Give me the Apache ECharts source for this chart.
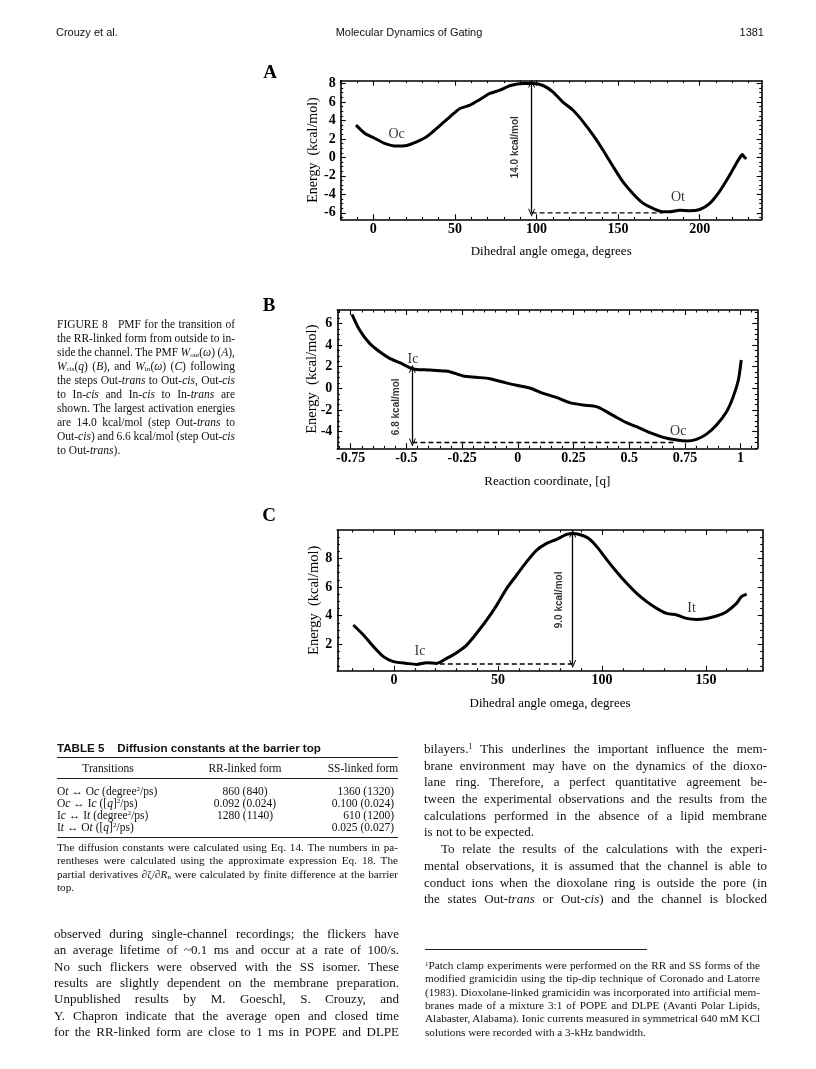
<!DOCTYPE html>
<html><head><meta charset="utf-8">
<script src="https://cdn.jsdelivr.net/npm/echarts@6/dist/echarts.min.js"></script>
<style>
html,body{margin:0;padding:0;background:#fff;}
#page{position:relative;width:816px;height:1069px;overflow:hidden;background:#fff;}
#chart{position:absolute;left:0;top:0;width:816px;height:1069px;}
.t{position:absolute;white-space:nowrap;color:#111;}
.serif{font-family:'Liberation Serif','Times New Roman',serif;}
.sans{font-family:'Liberation Sans',Arial,sans-serif;}
.ln{position:absolute;text-align:left;color:#111;font-family:'Liberation Serif','Times New Roman',serif;white-space:nowrap;}
.s{font-size:0.62em;line-height:0;}
sub.s{vertical-align:-0.2em;}
sup.s{vertical-align:0.5em;}
.rule{position:absolute;background:#222;}
</style></head>
<body>
<div id="page">
<div id="chart"></div>
</div>
<script>
// ---------------- data ----------------
// Panel A: W_out(omega)
const aX = [-10.6,-5.1,0,6.1,14.3,20.4,26.5,32.7,38.8,46.9,53.1,59.2,65.3,71.4,77.6,83.7,91.8,98,104,110,116,122.4,128.6,134.7,140.8,147,153,159,165,171.4,177.6,181.6,187.8,194,200,206,212,218.4,222.4,224.9,226,227.6,228.6];
const aY = [3.49,2.59,2.15,1.58,1.22,1.29,1.68,2.23,3.13,4.39,5.29,5.65,6.27,6.92,7.28,7.75,8.0,8.0,7.78,7.1,6.0,5.1,3.85,2.4,0.78,-1.02,-2.65,-3.9,-4.92,-5.53,-5.89,-5.89,-5.71,-5.78,-5.64,-5.0,-3.73,-1.92,-0.66,0.06,0.31,-0.01,-0.16];
const aXTicks = [0,50,100,150,200];
const aYTicks = [-6,-4,-2,0,2,4,6,8];
const aBarX = [97,97], aBarY = [8,-6];
const aBaseX = [97,177], aBaseY = [-6,-6];
const aLabNames = ['Oc','Ot'], aLabX = [14.3,186.7], aLabY = [2.5,-4.34];
const aEnergy = '14.0 kcal/mol', aEnergyX = 86.7, aEnergyY = 1.1;

// Panel B: W_cis(q)
const bX = [-0.744,-0.71,-0.665,-0.62,-0.575,-0.53,-0.478,-0.455,-0.395,-0.335,-0.305,-0.245,-0.186,-0.126,-0.066,-0.006,0.054,0.114,0.173,0.233,0.293,0.353,0.398,0.443,0.488,0.533,0.593,0.653,0.713,0.758,0.802,0.847,0.892,0.937,0.967,0.99,1.003];
const bY = [6.83,5.38,4.15,3.38,2.77,2.37,1.85,1.75,1.69,1.6,1.54,1.14,1.02,0.89,0.58,0.28,0.03,-0.46,-0.83,-1.32,-1.54,-1.69,-2.15,-2.68,-3.17,-3.54,-4.09,-4.52,-4.77,-4.86,-4.71,-4.22,-3.38,-2.15,-0.77,0.77,2.62];
const bXTicks = [-0.75,-0.5,-0.25,0,0.25,0.5,0.75,1];
const bYTicks = [-4,-2,0,2,4,6];
const bBarX = [-0.473,-0.473], bBarY = [1.8,-5.0];
const bBaseX = [-0.473,0.70], bBaseY = [-5.0,-5.0];
const bLabNames = ['Ic','Oc'], bLabX = [-0.47,0.72], bLabY = [2.71,-4.0];
const bEnergy = '6.8 kcal/mol', bEnergyX = -0.545, bEnergyY = -1.7;

// Panel C: W_in(omega)
const cX = [-19.6,-14.7,-9.9,-5.1,-0.3,6.1,10.9,15.7,20.5,25.3,30.1,34.9,39.7,44.6,49.4,54.2,59,63.8,68.6,73.4,78.2,83,86.2,91,94.2,98.2,102.2,107,111.9,116.7,121.5,126.3,131.1,135.9,140.7,145.5,150.3,155.1,159.9,164.7,167.1,169.6];
const cY = [3.35,2.65,1.84,1.14,0.79,0.67,0.6,0.72,0.67,1.02,1.42,1.95,2.77,3.7,4.74,5.91,6.84,7.77,8.58,9.05,9.33,9.67,9.74,9.58,9.33,8.7,7.93,7.07,6.26,5.56,4.98,4.51,4.16,4.05,3.81,3.74,3.81,3.98,4.28,4.86,5.33,5.51];
const cXTicks = [0,50,100,150];
const cYTicks = [2,4,6,8];
const cBarX = [85.9,85.9], cBarY = [9.74,0.63];
const cBaseX = [22,85.9], cBaseY = [0.63,0.63];
const cLabNames = ['Ic','It'], cLabX = [12.5,143.1], cLabY = [1.49,4.51];
const cEnergy = '9.0 kcal/mol', cEnergyX = 79.5, cEnergyY = 5.1;

// ---------------- chart ----------------
const FS = 'Liberation Serif';
const ARROW = 'path://M5,0 L10,10 L8.6,10 L5,3.2 L1.4,10 L0,10 Z';
function zip(xs, ys){ return xs.map((x,i)=>[x, ys[i]]); }
function minorVals(min, max, step, majors){
  const out=[]; const s=Math.ceil(min/step-1e-9), e=Math.floor(max/step+1e-9);
  for(let k=s;k<=e;k++){ const v=+(k*step).toFixed(6); if(!majors.some(m=>Math.abs(m-v)<1e-9)) out.push(v); }
  return out;
}
function makeAxes(dim, g, min, max, majors, minorStep, name, nameGap, labelMargin, nameSize){
  const minors = minorVals(min,max,minorStep,majors);
  const posA = dim==='x' ? 'bottom':'left';
  const posB = dim==='x' ? 'top':'right';
  const lineStyle={color:'#000',width:1.6};
  const tickStyle={color:'#000',width:1.1};
  const base = {type:'value', gridIndex:g, min:min, max:max, splitLine:{show:false}, minorTick:{show:false}, minorSplitLine:{show:false}, silent:true};
  return [
    Object.assign({}, base, {position:posA, axisLine:{show:true,onZero:false,lineStyle:lineStyle},
      axisTick:{show:true,inside:true,length:5,customValues:majors,lineStyle:tickStyle},
      axisLabel:{show:true,customValues:majors,margin:labelMargin,color:'#000',fontFamily:FS,fontWeight:'bold',fontSize:14},
      name:name, nameLocation:'middle', nameGap:nameGap, nameMoveOverlap:false, nameTextStyle:{color:'#000',fontFamily:FS,fontSize:nameSize}}),
    Object.assign({}, base, {position:posA, axisLine:{show:false,onZero:false},
      axisTick:{show:true,inside:true,length:2.5,customValues:minors,lineStyle:tickStyle}, axisLabel:{show:false}}),
    Object.assign({}, base, {position:posB, axisLine:{show:true,onZero:false,lineStyle:lineStyle},
      axisTick:{show:true,inside:true,length:5,customValues:majors,lineStyle:tickStyle}, axisLabel:{show:false}}),
    Object.assign({}, base, {position:posB, axisLine:{show:false,onZero:false},
      axisTick:{show:true,inside:true,length:2.5,customValues:minors,lineStyle:tickStyle}, axisLabel:{show:false}})
  ];
}
function panelSeries(g, p){
  const xi=4*g, yi=4*g;
  return [
    {type:'line', xAxisIndex:xi, yAxisIndex:yi, data:zip(p.x,p.y), showSymbol:false, symbol:'none', smooth:0.25,
     lineStyle:{color:'#000',width:3}, z:3, silent:true,
     markLine:{silent:true, animation:false, symbol:[ARROW,ARROW], symbolSize:[7,8], label:{show:false},
       lineStyle:{color:'#000',width:1.3,type:'solid'}, emphasis:{disabled:true},
       data:[[{coord:[p.barX[0],p.barY[0]]},{coord:[p.barX[1],p.barY[1]]}]]}},
    {type:'line', xAxisIndex:xi, yAxisIndex:yi, data:zip(p.baseX,p.baseY), showSymbol:false, symbol:'none', silent:true,
     lineStyle:{color:'#000',width:1.4,type:[5,3]}},
    {type:'scatter', xAxisIndex:xi, yAxisIndex:yi, symbolSize:1, itemStyle:{color:'rgba(0,0,0,0)'}, silent:true,
     data:p.labNames.map((n,i)=>({name:n, value:[p.labX[i],p.labY[i]]})),
     label:{show:true, position:'inside', formatter:'{b}', color:'#000', fontFamily:FS, fontSize:14}},
    {type:'scatter', xAxisIndex:xi, yAxisIndex:yi, symbolSize:1, itemStyle:{color:'rgba(0,0,0,0)'}, silent:true,
     data:[{name:p.eText, value:[p.eX,p.eY]}],
     label:{show:true, position:'inside', rotate:90, formatter:'{b}', color:'#000', fontFamily:'Liberation Sans', fontWeight:'bold', fontSize:10}}
  ];
}
const X_NAME = 'Dihedral angle omega, degrees';
const Y_NAME = 'Energy  (kcal/mol)';
const xAxes = [].concat(
  makeAxes('x',0,-20,238,aXTicks,10,X_NAME,26,3,13),
  makeAxes('x',1,-0.81,1.075,bXTicks,0.05,'Reaction coordinate, [q]',27,3,13),
  makeAxes('x',2,-27.3,177.3,cXTicks,10,X_NAME,26,3,13)
);
const yAxes = [].concat(
  makeAxes('y',0,-6.7,8.3,aYTicks,0.5,Y_NAME,20.5,5,14),
  makeAxes('y',1,-5.53,7.23,bYTicks,0.5,Y_NAME,17.5,5,14.5),
  makeAxes('y',2,0.16,9.98,cYTicks,0.5,Y_NAME,15.5,5,14.5)
);
const series = [].concat(
  panelSeries(0,{x:aX,y:aY,barX:aBarX,barY:aBarY,baseX:aBaseX,baseY:aBaseY,labNames:aLabNames,labX:aLabX,labY:aLabY,eText:aEnergy,eX:aEnergyX,eY:aEnergyY}),
  panelSeries(1,{x:bX,y:bY,barX:bBarX,barY:bBarY,baseX:bBaseX,baseY:bBaseY,labNames:bLabNames,labX:bLabX,labY:bLabY,eText:bEnergy,eX:bEnergyX,eY:bEnergyY}),
  panelSeries(2,{x:cX,y:cY,barX:cBarX,barY:cBarY,baseX:cBaseX,baseY:cBaseY,labNames:cLabNames,labX:cLabX,labY:cLabY,eText:cEnergy,eX:cEnergyX,eY:cEnergyY})
);
const chart = echarts.init(document.getElementById('chart'), null, {renderer:'canvas'});
chart.setOption({
  animation:false,
  backgroundColor:'#fff',
  grid:[
    {left:340.7, top:80.7, width:421, height:138.6, containLabel:false, outerBoundsMode:'none'},
    {left:337.3, top:310, width:420, height:138.3, containLabel:false, outerBoundsMode:'none'},
    {left:337.3, top:530, width:425.4, height:140.7, containLabel:false, outerBoundsMode:'none'}
  ],
  xAxis:xAxes, yAxis:yAxes, series:series,
  graphic:[
    {type:'text', x:270, y:73, style:{text:'A', align:'center', verticalAlign:'middle', textAlign:'center', textVerticalAlign:'middle', font:'bold 19px "Liberation Serif"', fill:'#000'}},
    {type:'text', x:269, y:306, style:{text:'B', align:'center', verticalAlign:'middle', textAlign:'center', textVerticalAlign:'middle', font:'bold 19px "Liberation Serif"', fill:'#000'}},
    {type:'text', x:269, y:516, style:{text:'C', align:'center', verticalAlign:'middle', textAlign:'center', textVerticalAlign:'middle', font:'bold 19px "Liberation Serif"', fill:'#000'}}
  ]
});

// ---------------- page text ----------------
const page = document.getElementById('page');
const justifyQueue = [];
function el(cls, html, css){ const d=document.createElement('div'); d.className=cls; d.innerHTML=html; Object.assign(d.style, css); page.appendChild(d); return d; }
function addLines(lines, left, width, firstCenter, spacing, fontSize){
  lines.forEach((l,i)=>{
    const o = (typeof l==='string') ? {h:l} : l;
    const ind = o.indent || 0;
    const d = el('ln', '<span class="in">'+o.h+'</span>', {left:(left+ind)+'px', width:(width-ind)+'px', top:(firstCenter+i*spacing-spacing/2)+'px',
      height:spacing+'px', lineHeight:spacing+'px', fontSize:fontSize+'px'});
    justifyQueue.push({d:d, w:width-ind, j:!o.nj});
  });
}
function doJustify(){
  justifyQueue.forEach(q=>{
    const sp = q.d.firstChild;
    sp.style.wordSpacing = '0px';
    const w = sp.getBoundingClientRect().width;
    const n = (sp.textContent.match(/[ \u00a0]/g)||[]).length;
    if(n>0 && (q.j || w>q.w)) sp.style.wordSpacing = ((q.w - w)/n)+'px';
  });
}
// header
el('t sans','Crouzy et al.',{left:'56px',top:'24px',fontSize:'11px',lineHeight:'16px'});
el('t sans','Molecular Dynamics of Gating',{left:'409px',top:'24px',fontSize:'11px',lineHeight:'16px',transform:'translateX(-50%)'});
el('t sans','1381',{right:'52px',top:'24px',fontSize:'11px',lineHeight:'16px'});

// figure caption
addLines([
  'FIGURE 8&nbsp;&nbsp; PMF for the transition of',
  'the RR-linked form from outside to in-',
  'side the channel. The PMF <i>W</i><sub class="s">out</sub>(<i>ω</i>) (<i>A</i>),',
  '<i>W</i><sub class="s">cis</sub>(<i>q</i>) (<i>B</i>), and <i>W</i><sub class="s">in</sub>(<i>ω</i>) (<i>C</i>) following',
  'the steps Out-<i>trans</i> to Out-<i>cis</i>, Out-<i>cis</i>',
  'to In-<i>cis</i> and In-<i>cis</i> to In-<i>trans</i> are',
  'shown. The largest activation energies',
  'are 14.0 kcal/mol (step Out-<i>trans</i> to',
  'Out-<i>cis</i>) and 6.6 kcal/mol (step Out-<i>cis</i>',
  {h:'to Out-<i>trans</i>).', nj:true}
], 57, 178, 324, 14, 11.5);

// table 5
el('t sans','<b>TABLE 5&nbsp;&nbsp;&nbsp; Diffusion constants at the barrier top</b>',{left:'57px',top:'741px',fontSize:'11.6px',lineHeight:'14px'});
el('rule','',{left:'57px',top:'756.5px',width:'341px',height:'1.6px'});
el('rule','',{left:'57px',top:'778px',width:'341px',height:'0.9px'});
el('rule','',{left:'57px',top:'836.5px',width:'341px',height:'1.6px'});
const TS = {fontSize:'11.5px',lineHeight:'12px'};
el('t serif','Transitions',Object.assign({left:'108px',top:'761.7px',transform:'translateX(-50%)'},TS));
el('t serif','RR-linked form',Object.assign({left:'245px',top:'761.7px',transform:'translateX(-50%)'},TS));
el('t serif','SS-linked form',Object.assign({left:'363px',top:'761.7px',transform:'translateX(-50%)'},TS));
const rowC = [790.7, 802.9, 815.1, 827.3];
const rowT = ['O<i>t</i> ↔ O<i>c</i> (degree<sup class="s">2</sup>/ps)','O<i>c</i> ↔ I<i>c</i> ([<i>q</i>]<sup class="s">2</sup>/ps)','I<i>c</i> ↔ I<i>t</i> (degree<sup class="s">2</sup>/ps)','I<i>t</i> ↔ O<i>t</i> ([<i>q</i>]<sup class="s">2</sup>/ps)'];
const rowRR = ['860 (840)','0.092 (0.024)','1280 (1140)',''];
const rowSS = ['1360 (1320)','0.100 (0.024)','610 (1200)','0.025 (0.027)'];
rowC.forEach((c,i)=>{
  el('t serif',rowT[i],Object.assign({left:'57px',top:(c-6)+'px'},TS));
  el('t serif',rowRR[i],Object.assign({left:'245px',top:(c-6)+'px',transform:'translateX(-50%)'},TS));
  el('t serif',rowSS[i],Object.assign({right:(816-394)+'px',top:(c-6)+'px'},TS));
});
addLines([
  'The diffusion constants were calculated using Eq. 14. The numbers in pa-',
  'rentheses were calculated using the approximate expression Eq. 18. The',
  'partial derivatives ∂ζ/∂<i>R</i><sub class="s">n</sub> were calculated by finite difference at the barrier',
  {h:'top.', nj:true}
], 57, 341, 847.3, 13.6, 11.2);

// left column body text
addLines([
  'observed during single-channel recordings; the flickers have',
  'an average lifetime of ~0.1 ms and occur at a rate of 100/s.',
  'No such flickers were observed with the SS isomer. These',
  'results are slightly dependent on the membrane preparation.',
  'Unpublished results by M. Goeschl, S. Crouzy, and',
  'Y. Chapron indicate that the average open and closed time',
  'for the RR-linked form are close to 1 ms in POPE and DLPE'
], 54, 345, 934.3, 16.3, 13);

// right column body text
addLines([
  'bilayers.<sup class="s">1</sup> This underlines the important influence the mem-',
  'brane environment may have on the dynamics of the dioxo-',
  'lane ring. Therefore, a perfect quantitative agreement be-',
  'tween the experimental observations and the results from the',
  'calculations performed in the absence of a lipid membrane',
  {h:'is not to be expected.', nj:true},
  {h:'To relate the results of the calculations with the experi-', indent:17},
  'mental observations, it is assumed that the channel is able to',
  'conduct ions when the dioxolane ring is outside the pore (in',
  'the states Out-<i>trans</i> or Out-<i>cis</i>) and the channel is blocked'
], 424, 343, 749.3, 16.7, 13);

// footnote
el('rule','',{left:'425px',top:'949px',width:'222px',height:'0.9px'});
addLines([
  '<sup class="s">1</sup>Patch clamp experiments were performed on the RR and SS forms of the',
  'modified gramicidin using the tip-dip technique of Coronado and Latorre',
  '(1983). Dioxolane-linked gramicidin was incorporated into artificial mem-',
  'branes made of a mixture 3:1 of POPE and DLPE (Avanti Polar Lipids,',
  'Alabaster, Alabama). Ionic currents measured in symmetrical 640 mM KCl',
  {h:'solutions were recorded with a 3-kHz bandwidth.', nj:true}
], 425, 335, 965.7, 13.3, 11.2);

doJustify();
if (document.fonts && document.fonts.ready) document.fonts.ready.then(doJustify);
</script>
</body></html>
